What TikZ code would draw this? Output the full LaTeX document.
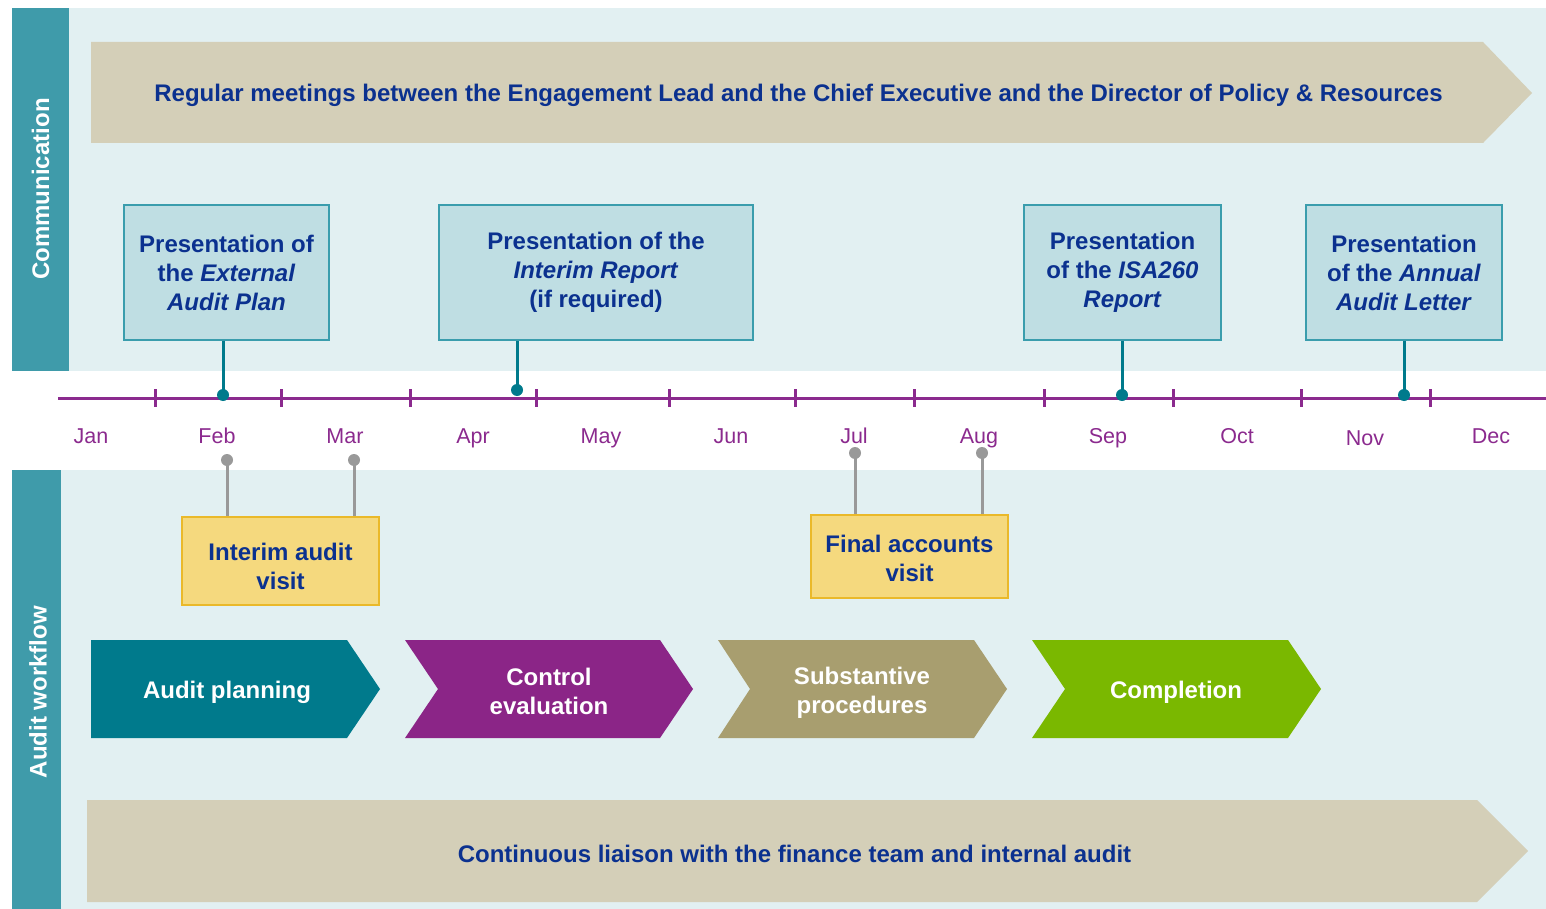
\documentclass[tikz,border=0pt]{standalone}
\usepackage{fontspec}
\setmainfont{Liberation Sans}
\definecolor{panel}{HTML}{E2F0F2}
\definecolor{sidebar}{HTML}{3F9BAA}
\definecolor{beige}{HTML}{D4CFB8}
\definecolor{navy}{HTML}{0B318F}
\definecolor{boxfill}{HTML}{BFDEE3}
\definecolor{boxline}{HTML}{3A9DAD}
\definecolor{tealc}{HTML}{007A8C}
\definecolor{tlpurple}{HTML}{8B2A8E}
\definecolor{pingray}{HTML}{999999}
\definecolor{yfill}{HTML}{F5D97E}
\definecolor{yline}{HTML}{EAB92A}
\definecolor{cpurple}{HTML}{8B2587}
\definecolor{colive}{HTML}{A89E6F}
\definecolor{cgreen}{HTML}{7AB800}
\begin{document}
\begin{tikzpicture}[x=1pt,y=-1pt,
  bt/.style={font=\fontsize{24}{29}\selectfont\bfseries, text=navy, align=center},
  wt/.style={font=\fontsize{24}{29}\selectfont\bfseries, text=white, align=center},
  side/.style={font=\fontsize{24}{28}\selectfont\bfseries, text=white, rotate=90},
  month/.style={font=\fontsize{21.5}{24}\selectfont, text=tlpurple, anchor=base},
  bluebox/.style={bt, draw=boxline, fill=boxfill, line width=1.5pt, minimum height=135pt, inner sep=0pt},
  ybox/.style={draw=yline, fill=yfill, line width=1.5pt, inner sep=0pt},
  conn/.style={draw=tealc, line width=3pt},
  pin/.style={draw=pingray, line width=3pt},
  tl/.style={draw=tlpurple, line width=3pt}
]
\useasboundingbox (0,0) rectangle (1546,909);
% panels
\fill[panel] (12,8) rectangle (1546,371);
\fill[sidebar] (12,8) rectangle (69,371);
\fill[panel] (12,470) rectangle (1546,909);
\fill[sidebar] (12,470) rectangle (61,909);
\node[side] (comm) at (40.5,189) {Communication};
\node[side] (wf) at (38,692) {Audit workflow};
% top arrow
\fill[beige] (91,42) -- (1483,42) -- (1532,93) -- (1483,143) -- (91,143) -- cycle;
\node[bt] (meet) at (798.5,95) {Regular meetings between the Engagement Lead and the Chief Executive and the Director of Policy \& Resources};
% bottom arrow
\fill[beige] (87,800) -- (1477,800) -- (1528,851) -- (1477,902) -- (87,902) -- cycle;
\node[bt] (liaison) at (794.5,854) {Continuous liaison with the finance team and internal audit};
% timeline
\draw[tl] (58,398) -- (1546,398);
\foreach \x in {155,281,410,536,669,795,914,1044,1173,1301,1430}
  \draw[tl] (\x,389) -- (\x,407);
\node[month] (jan) at (91,443) {Jan};
\node[month] (feb) at (217,443) {Feb};
\node[month] (mar) at (345,443) {Mar};
\node[month] (apr) at (473,443) {Apr};
\node[month] (may) at (601,443) {May};
\node[month] (jun) at (731,443) {Jun};
\node[month] (jul) at (854,443) {Jul};
\node[month] (aug) at (979,443) {Aug};
\node[month] (sep) at (1108,443) {Sep};
\node[month] (oct) at (1237,443) {Oct};
\node[month] (nov) at (1365,445) {Nov};
\node[month] (dec) at (1491,443) {Dec};
% blue boxes
\node[bluebox, minimum width=205pt] (b1) at (226.5,272.5) {Presentation of\\the \textit{External}\\\textit{Audit Plan}};
\node[bluebox, minimum width=314pt] (b2) at (596,272.5) {Presentation of the\\\textit{Interim Report}\\(if required)};
\node[bluebox, minimum width=197pt] (b3) at (1122.5,272.5) {Presentation\\of the \textit{ISA260}\\\textit{Report}};
\node[bluebox, minimum width=196pt] (b4) at (1404,272.5) {Presentation\\of the \textit{Annual}\\\textit{Audit Letter}};
\coordinate (d1) at (223,395);
\coordinate (d2) at (517,390);
\coordinate (d3) at (1122,395);
\coordinate (d4) at (1404,395);
\foreach \b/\d in {b1/d1,b2/d2,b3/d3,b4/d4}{
  \draw[conn] (\d |- \b.south) -- (\d);
  \fill[tealc] (\d) circle (6pt);
}
% yellow boxes
\node[ybox, minimum width=197pt, minimum height=88pt] (y1) at (280.5,561) {};
\node[bt, yshift=-5pt] (y1t) at (y1.center) {Interim audit\\visit};
\node[ybox, minimum width=197pt, minimum height=83pt] (y2) at (909.5,556.5) {};
\node[bt, yshift=-2pt] (y2t) at (y2.center) {Final accounts\\visit};
\coordinate (p1) at (227,460);
\coordinate (p2) at (354,460);
\coordinate (p3) at (855,453);
\coordinate (p4) at (982,453);
\foreach \p/\y in {p1/y1,p2/y1,p3/y2,p4/y2}{
  \draw[pin] (\p) -- (\p |- \y.north);
  \fill[pingray] (\p) circle (6pt);
}
% chevrons
\fill[tealc] (91,640) -- (347,640) -- (380,689) -- (347,738) -- (91,738) -- cycle;
\fill[cpurple] (405,640) -- (660,640) -- (693,689) -- (660,738) -- (405,738) -- (438,689) -- cycle;
\fill[colive] (718,640) -- (974,640) -- (1007,689) -- (974,738) -- (718,738) -- (750,689) -- cycle;
\fill[cgreen] (1032,640) -- (1288,640) -- (1321,689) -- (1288,738) -- (1032,738) -- (1065,689) -- cycle;
\node[wt] (c1) at (227,692) {Audit planning};
\node[wt] (c2) at (549,691) {Control\\evaluation};
\node[wt] (c3) at (862,693) {Substantive\\procedures};
\node[wt] (c4) at (1176,692) {Completion};
\end{tikzpicture}
\end{document}
